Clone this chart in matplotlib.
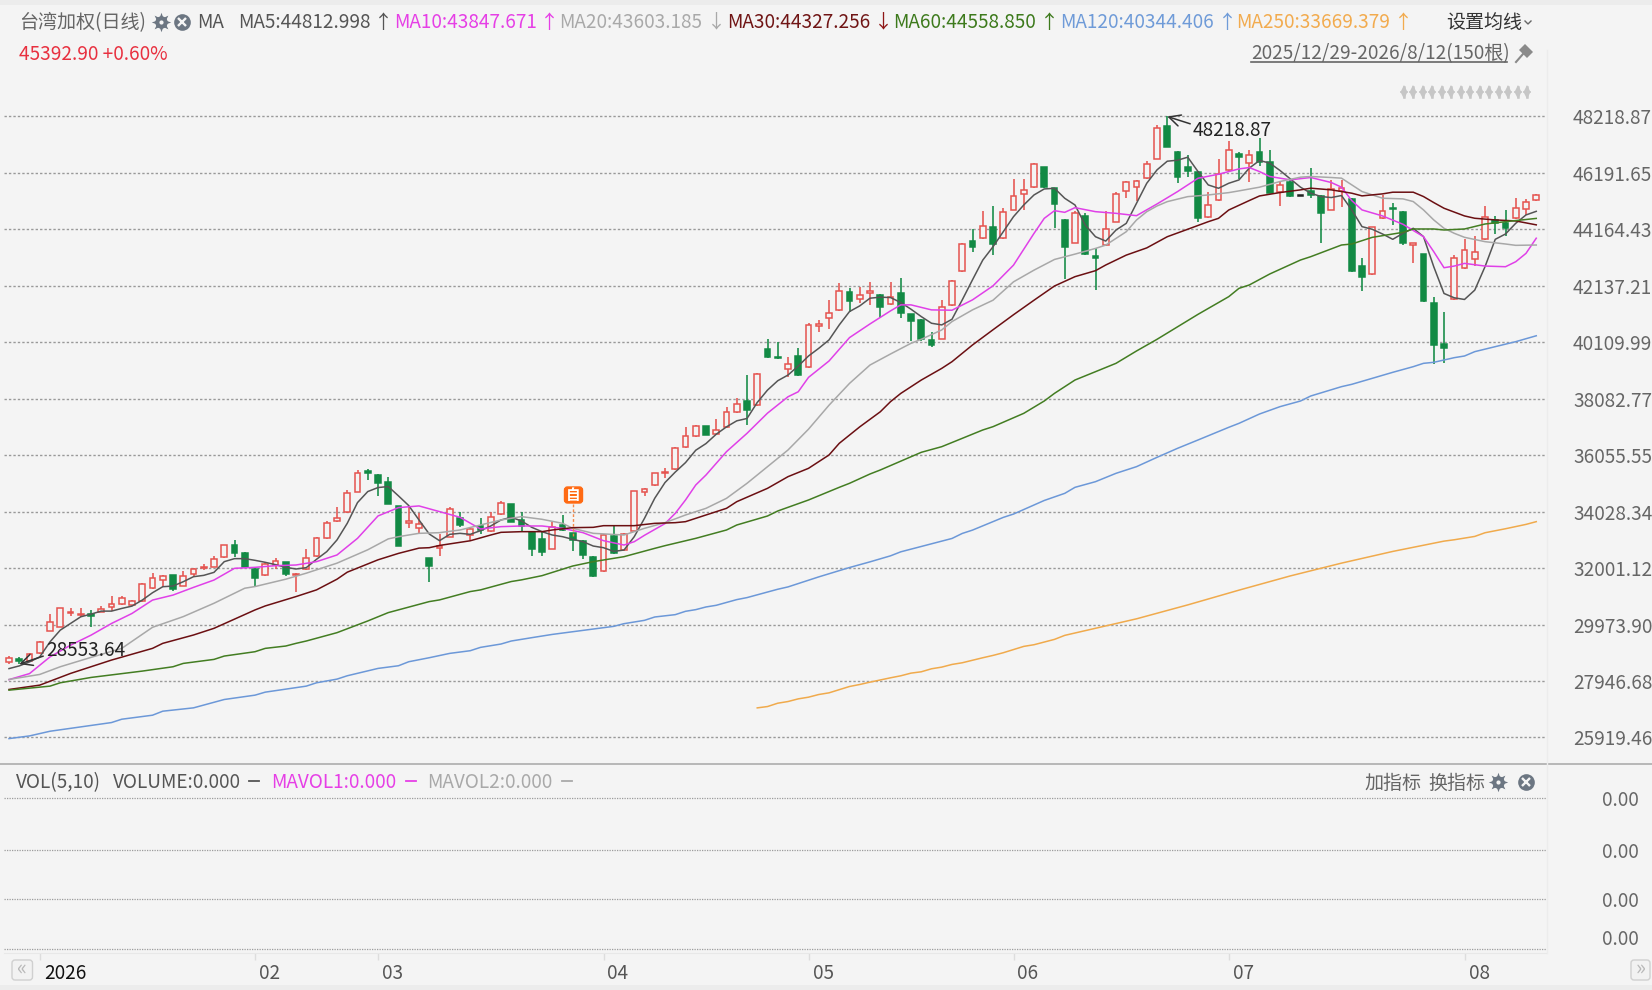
import matplotlib
matplotlib.use("Agg")
import matplotlib.pyplot as plt
from matplotlib.lines import Line2D
from matplotlib.patches import Circle, FancyBboxPatch, Polygon, Rectangle
from matplotlib.transforms import Affine2D, ScaledTranslation

plt.rcParams['font.family'] = ['Noto Sans CJK SC', 'DejaVu Sans']

opens = [28621,28729,28669,28957,29737,29893,30385,30325,30361,30433,
30589,30697,30673,30817,31285,31573,31753,31369,31777,32005,
32053,32389,32821,32545,31969,31741,32101,32209,31741,31969,
32437,33085,33685,34006,34750,35482,35338,35098,34234,33634,
33454,32350,32722,33130,33790,33190,33514,33322,33946,34294,
33730,33286,33046,32698,33550,33250,32986,32398,31894,33154,
32650,33346,34750,34978,35410,35566,36354,36738,37122,36834,
37062,37590,37986,37854,39882,39570,39162,39606,39210,40698,
40998,41262,41934,41682,41898,41826,41478,41874,41118,40914,
40206,40242,41442,42665,43757,43853,44237,43853,44873,45425,
45689,46409,45641,44513,43685,44633,43217,43589,44441,45533,
45689,46001,46709,47861,46949,46409,46241,44609,45209,46289,
46889,46544,46952,46580,45524,45860,45370,45536,45368,44876,
45536,45260,42836,42560,44564,44948,44792,43592,43280,41504,
40040,41648,42776,43100,43808,44504,44408,44564,44888,45212]
closes = [28777,28657,28933,29341,30049,30553,30433,30361,30277,30541,
30709,30937,30817,31429,31633,31729,31261,31717,31957,32053,
32341,32821,32533,32053,31633,32161,32257,31777,31801,32365,
33085,33637,33793,34714,35422,35410,35050,34306,32794,33694,
33574,32086,32794,34114,33550,33418,33370,33838,34330,33670,
33514,32686,32578,33466,33370,33010,32470,31714,33190,32530,
33238,34762,34858,35410,35458,36322,36750,37122,36786,36954,
37602,37878,37686,38970,39582,39534,39330,38934,40734,40770,
41154,41970,41586,41826,41946,41370,41730,41154,40890,40218,
40014,41370,42318,43637,43517,44285,43637,44777,45365,45581,
46517,45677,45089,43517,44741,43265,43145,44177,45425,45857,
45905,46505,47801,47141,46037,46265,44585,45041,46157,47033,
46769,46832,46580,45488,45752,45368,45370,45416,44768,45620,
45644,42668,42440,44240,44828,44888,43688,43664,41576,40028,
39896,43148,43424,43364,44600,44384,44228,44924,45164,45392.90]
highs = [28837,28813,28969,29377,30349,30553,30553,30553,30493,30649,
30997,30997,30853,31477,31813,31753,31753,31909,32017,32149,
32437,32833,33013,32569,31993,32197,32377,32233,31825,32677,
33109,33685,34213,34810,35530,35578,35374,35266,34234,34210,
33970,32350,33226,34210,34018,33466,33802,34006,34426,34294,
34030,33286,33286,33670,33910,33274,33010,32446,33214,33526,
33262,34774,34882,35434,35590,36346,37074,37146,37122,37350,
37770,38094,38922,38994,40218,40110,39570,39894,40794,40914,
41634,42222,42054,42078,42270,41850,42270,42426,41142,40938,
40470,41634,42354,43661,44165,44837,45005,44945,45977,45977,
46565,46421,45665,44525,44825,44741,43481,44837,45521,45917,
45941,46613,47921,48218.87,46973,46841,46265,45521,46685,47321,
46961,47024,47444,47024,45884,46004,45380,46364,45392,45944,
45944,45284,43124,44264,45404,45128,44816,43688,43292,41720,
41192,43232,43820,43928,45008,44648,44852,45284,45260,45440]
lows = [28560,28553.64,28645,28933,29725,29893,30265,30229,29893,30409,
30457,30673,30649,30793,31261,31333,31189,31345,31729,31933,
32029,32377,32413,32029,31333,31729,31957,31729,31129,31945,
32413,33061,33661,33982,34738,35170,34594,34306,32794,33454,
33274,31510,32434,33106,33466,33010,33226,33298,33922,33670,
33298,32434,32434,32686,33346,32626,32314,31666,31870,32494,
32626,33322,34594,34954,35254,35542,36330,36714,36786,36810,
37038,37566,37146,37830,39558,39522,38874,38910,39198,40494,
40590,41238,41214,41514,41454,40974,41454,40986,40170,40170,
39954,40218,41418,42641,43349,43829,43241,43829,44849,44861,
45665,45665,44201,42377,43661,43241,42005,43565,44417,45305,
45185,45977,46685,47117,45845,46037,44441,44585,45185,46265,
45977,45884,46424,45464,45020,45344,45356,45284,43664,44852,
44960,42644,41948,42536,44540,44324,43604,42968,41564,39344,
39380,41624,42752,42848,43784,44000,43928,44540,44684,45188]

ma5 = [28393,28489,28633,28813,29353,29773,30013,30253,30349,30457,
30457,30553,30637,30853,31117,31333,31357,31513,31693,31741,
31849,32233,32341,32341,32281,32209,32125,32029,31969,32017,
32317,32593,33013,33610,34354,34750,34894,34930,34594,34246,
33730,33226,32986,33214,33250,33214,33346,33514,33730,33826,
33694,33466,33310,33190,33130,33034,32950,32794,32734,32602,
32650,33130,33790,34510,35074,35450,35790,36234,36474,36810,
37074,37290,37374,37950,38394,38730,38934,39258,39618,39894,
40194,40734,41214,41418,41694,41730,41718,41538,41298,41034,
40794,40734,40938,41634,42354,43061,43541,44081,44621,45041,
45401,45617,45641,45281,45041,44321,43901,43745,44141,44381,
45101,45821,46301,46613,46649,46757,46241,45761,45641,45821,
45941,46364,46640,46544,46280,45980,45680,45464,45344,45308,
45380,44864,44264,44168,44000,43808,44024,44204,43904,42824,
41864,41708,41648,41984,42824,43808,44000,44384,44684,44812.998]

ma10_x = [0,2,4,6,8,10,12,14,16,18,20,22,24,26,28,30,32,34,36,38,40,42,44,46,48,50,52,54,56,58,60,61,62,64,65,66,67,68,70,72,74,76,77,78,80,82,84,86,87,88,90,92,94,96,98,100,101,102,103,104,106,108,110,112,114,116,118,120,121,122,123,125,127,129,130,131,132,134,136,138,139,140,141,142,144,146,147,148,149]
ma10 = [27997,28213,28813,29233,29593,30013,30373,30853,31033,31309,31573,31993,32029,32089,32113,32233,32473,33070,33874,34174,34234,34030,33826,33406,33490,33514,33514,33430,33274,32986,32830,32950,33180,33600,33968,34447,34986,35345,36183,36841,37566,38154,38334,38850,39438,40278,40770,41238,41454,41454,41274,41262,41634,42137,42881,44021,44561,44837,44777,44945,44801,44741,44657,45077,45521,46001,46145,46337,46385,46241,46064,45944,46028,45848,45680,45200,44864,44648,44348,43904,43364,42788,42848,42944,42848,42824,43004,43304,43847.671]

ma20_x = [0,3,5,8,11,14,17,20,23,24,27,29,32,35,37,38,40,42,44,46,48,50,52,54,55,57,60,62,64,66,67,68,70,72,74,76,78,80,82,84,86,88,89,91,92,94,96,98,100,102,104,106,107,109,110,111,112,113,115,117,119,120,122,124,126,127,129,130,131,132,134,136,137,138,139,140,141,142,144,146,147,149]
ma20 = [28003,28183,28459,28795,29119,29875,30259,30739,31279,31339,31603,31819,32179,32659,33050,33130,33250,33274,33370,33550,33730,33850,33754,33610,33430,33250,33190,33430,33633,33908,34028,34148,34507,35046,35644,36243,36990,37850,38634,39294,39690,40074,40218,40554,40854,41274,41621,42281,42701,43085,43277,43481,43601,44081,44501,44801,45005,45161,45341,45401,45485,45548,45680,45884,46040,46064,46028,46004,45764,45524,45284,45260,45164,44864,44504,44204,44024,43880,43724,43640,43592,43603.185]

ma30_x = [0,3,6,10,14,15,18,20,24,25,28,30,32,33,36,38,40,41,42,45,47,48,50,52,53,55,57,58,61,63,65,66,67,68,70,71,74,76,78,80,81,83,85,86,87,89,91,92,94,96,98,100,102,104,106,107,109,111,113,115,117,118,119,121,122,124,126,127,129,131,132,134,135,137,138,139,140,142,143,145,147,149]
ma30 = [27643,27799,28219,28699,29119,29299,29599,29839,30499,30643,30979,31219,31603,31855,32299,32530,32719,32734,32815,32983,33190,33286,33310,33310,33370,33454,33465,33525,33525,33609,33633,33669,33789,33909,34148,34387,34866,35285,35584,36063,36482,37074,37614,37978,38274,38754,39174,39414,40014,40560,41100,41621,42132,42467,42682,42886,43241,43500,43901,44170,44441,44562,44861,45200,45365,45488,45584,45644,45584,45464,45368,45440,45500,45500,45344,45128,44924,44648,44564,44504,44468,44327.256]

ma60_x = [0,4,5,8,13,16,17,20,21,24,25,27,28,29,32,35,37,41,42,45,46,49,50,52,55,57,60,63,64,67,70,71,74,75,78,81,82,84,85,89,91,93,95,96,99,101,102,104,106,108,110,112,116,119,120,121,123,126,127,130,131,133,136,137,139,140,142,144,146,149]
ma60 = [27619,27763,27883,28075,28303,28459,28579,28723,28843,28999,29119,29203,29299,29383,29683,30103,30403,30799,30859,31159,31219,31519,31579,31730,32077,32233,32412,32711,32807,33070,33370,33549,33872,34052,34447,34902,35046,35381,35524,36159,36362,36661,36961,37080,37559,38002,38277,38756,39055,39355,39798,40217,41114,41749,42048,42168,42563,43065,43185,43604,43640,43879,44059,44179,44179,44143,44179,44358,44442,44558.85]

ma120_x = [0,2,4,10,11,14,15,18,21,24,25,29,30,32,33,36,38,39,41,43,45,46,48,49,51,53,59,60,62,63,65,66,67,68,69,71,72,75,76,79,82,84,86,87,92,93,94,97,98,101,103,104,106,108,110,112,114,116,119,120,122,124,126,127,130,131,133,135,137,138,139,141,142,143,147,149]
ma120 = [25879,25975,26143,26455,26575,26719,26863,26983,27283,27439,27547,27763,27883,28015,28135,28399,28495,28639,28783,28939,29035,29155,29275,29383,29503,29620,29910,30006,30126,30246,30330,30450,30510,30606,30666,30870,30942,31242,31326,31686,32022,32226,32442,32586,33066,33246,33366,33822,33942,34430,34686,34902,35105,35405,35644,35979,36302,36602,37057,37200,37535,37799,38002,38182,38517,38601,38816,39032,39235,39355,39391,39558,39618,39774,40133,40344.406]

ma250_x = [73,74,75,76,77,78,79,80,82,83,84,86,87,88,89,90,91,92,93,95,96,97,99,100,101,102,103,110,115,120,125,130,135,140,141,143,144,146,148,149]
ma250 = [26982,27030,27150,27210,27306,27366,27462,27522,27750,27822,27906,28062,28134,28230,28278,28386,28446,28542,28602,28782,28866,28962,29190,29250,29346,29442,29586,30180,30680,31210,31720,32180,32600,32970,33019,33139,33271,33415,33571,33669.379]

price_ticks = [48218.87,46191.65,44164.43,42137.21,40109.99,38082.77,36055.55,34028.34,32001.12,29973.90,27946.68,25919.46]
month_idx = [3,24,36,58,78,98,119,142]
month_labels = ['2026','02','03','04','05','06','07','08']
vol_ticks = [0, 49.4, 99, 150.4]

W, H = 1652, 990
BG = '#f4f4f4'
RED = '#e5534f'
GREEN = '#128a44'
FS = 13.7
fig = plt.figure(figsize=(W/100, H/100), dpi=100, facecolor=BG)
px = Affine2D().scale(1/W, -1/H).translate(0, 1) + fig.transFigure

def axes_px(l, t, r, b):
    return fig.add_axes([l/W, 1-b/H, (r-l)/W, (b-t)/H], facecolor='none')

XL = ((4-9)/10.25, (1546-9)/10.25)
ax = axes_px(4, 0, 1546, 764)
ax.set_xlim(*XL)
ax.set_ylim(52402-35.91*764, 52402)
ax.yaxis.tick_right()
ax.set_yticks(price_ticks)
ax.set_yticklabels([f'{v:.2f}' for v in price_ticks])
ax.set_xticks([])
ax.tick_params(axis='y', length=0, pad=19.5, labelsize=FS, labelcolor='#666666')
ax.grid(axis='y', color='#999999', lw=1.0, ls=(0, (1.7, 1.5)), zorder=1)
ax.set_axisbelow(True)
for s in ax.spines.values():
    s.set_visible(False)

for i in range(150):
    o, c, h, l = opens[i], closes[i], highs[i], lows[i]
    col = RED if c > o else (GREEN if c < o else '#222222')
    top, bot = max(o, c), min(o, c)
    ax.vlines(i, top, h, color=col, lw=1.15, zorder=2)
    ax.vlines(i, l, bot, color=col, lw=1.15, zorder=2)
    ax.bar(i, max(top-bot, 20), bottom=bot, width=0.58,
           facecolor=(BG if c > o else col), edgecolor=col, linewidth=1.1, zorder=3)

series = [(list(range(150)), ma5, '#555555'), (ma10_x, ma10, '#e040e8'), (ma20_x, ma20, '#a8a8a8'),
          (ma30_x, ma30, '#6b0f12'), (ma60_x, ma60, '#437d22'), (ma120_x, ma120, '#6c98d8'),
          (ma250_x, ma250, '#f0aa4c')]
for xs, ys, col in series:
    ax.plot(xs, ys, color=col, lw=1.1, zorder=4, solid_joinstyle='round')

ax.annotate('28553.64', xy=(1, 28553.64), xytext=(46, 651), textcoords=px, fontsize=FS,
            color='#222222', va='center', ha='left', zorder=6, annotation_clip=False,
            arrowprops=dict(arrowstyle='->,head_length=0.6,head_width=0.3', color='#333333',
                            lw=1.1, shrinkA=0, shrinkB=0, relpos=(0, 0.3)))
ax.annotate('48218.87', xy=(113, 48218.87), xytext=(1193, 131), textcoords=px, fontsize=FS,
            color='#222222', va='center', ha='left', zorder=6, annotation_clip=False,
            arrowprops=dict(arrowstyle='->,head_length=0.6,head_width=0.3', color='#333333',
                            lw=1.1, shrinkA=0, shrinkB=0, relpos=(0, 0.8)))

vx = axes_px(4, 764, 1546, 953)
vx.set_xlim(*XL)
vx.set_ylim(-4.3, 184.7)
vx.yaxis.tick_right()
vx.set_yticks(vol_ticks)
vx.set_yticklabels(['0.00'] * 4)
vx.tick_params(axis='y', length=0, pad=40, labelsize=FS, labelcolor='#666666')
vx.grid(axis='y', color='#9c9c9c', lw=0.9, ls=(0, (1, 1)))
vx.set_axisbelow(True)
vx.set_xticks(month_idx)
vx.set_xticklabels(month_labels, ha='left')
vx.tick_params(axis='x', length=5, width=1, color='#dddddd', pad=2, labelsize=FS, labelcolor='#555555')
offx = ScaledTranslation(4/100, 0, fig.dpi_scale_trans)
for t in vx.xaxis.get_major_ticks():
    t.label1.set_transform(t.label1.get_transform() + offx)
vx.xaxis.get_major_ticks()[0].label1.set_color('#111111')
t0 = vx.yaxis.get_major_ticks()[0]
t0.label2.set_transform(t0.label2.get_transform() + ScaledTranslation(0, 12/100, fig.dpi_scale_trans))
for k, s in vx.spines.items():
    s.set_visible(k == 'bottom')
    s.set_color('#e8e8e8')

fig.add_artist(Rectangle((0, 0), W, 5, transform=px, facecolor='#ececec', edgecolor='none'))
fig.add_artist(Rectangle((0, 985), W, 5, transform=px, facecolor='#ececec', edgecolor='none'))
fig.add_artist(Line2D([0, W], [764, 764], transform=px, color='#a6a6a6', lw=1.1))
fig.add_artist(Line2D([1546.5, 1546.5], [50, 953], transform=px, color='#ececec', lw=1))

def label(x, y, s, color='#555555', size=FS, **kw):
    fig.text(x, y, s, transform=px, color=color, fontsize=size, va='center', ha='left', **kw)

def gear(x, y):
    fig.add_artist(Line2D([x], [y], transform=px, marker=(8, 1, 0), ms=14, color='#6c7682', mew=0))
    fig.add_artist(Line2D([x], [y], transform=px, marker='o', ms=9, color='#6c7682', mew=0))
    fig.add_artist(Line2D([x], [y], transform=px, marker='o', ms=3, color=BG, mew=0))

def closer(x, y):
    fig.add_artist(Line2D([x], [y], transform=px, marker='o', ms=12, color='#6c7682', mew=0))
    fig.add_artist(Line2D([x], [y], transform=px, marker='x', ms=5.5, mec=BG, mew=1.7))

Y1 = 22.5
label(19.5, Y1, '台湾加权(日线)', '#666666')
gear(161, 21.5); closer(182, 21.5)
label(197, Y1, 'MA', '#555555')
head = [(238, 'MA5:44812.998', '#555555', 383, '↑', '#555555'),
        (394, 'MA10:43847.671', '#e63fe6', 549.5, '↑', '#e63fe6'),
        (559.5, 'MA20:43603.185', '#a9a9a9', 716, '↓', '#a9a9a9'),
        (727, 'MA30:44327.256', '#701515', 883.5, '↓', '#8e1616'),
        (893, 'MA60:44558.850', '#3d7a1c', 1049, '↑', '#3d7a1c'),
        (1060, 'MA120:40344.406', '#6f9bd8', 1227, '↑', '#6f9bd8'),
        (1236, 'MA250:33669.379', '#f2ab4e', 1403, '↑', '#f2ab4e')]
for x, s, c, ax_, ar, ac in head:
    label(x, Y1, s, c)
    fig.text(ax_, Y1, ar, transform=px, color=ac, fontsize=FS, va='center', ha='center')
label(1446, Y1, '设置均线', '#333333')
fig.add_artist(Line2D([1525, 1528, 1531], [21, 24, 21], transform=px, color='#666666', lw=1))

label(19, 54, '45392.90 +0.60%', '#e8303f')
label(1251, 54, '2025/12/29-2026/8/12(150根)', '#666666')
fig.add_artist(Line2D([1251, 1507], [62, 62], transform=px, color='#666666', lw=1.2))
fig.add_artist(Polygon([(1525, 44), (1533, 52), (1527, 58), (1519, 50)], closed=True, transform=px,
                       facecolor='#8a8a8a', edgecolor='none'))
fig.add_artist(Line2D([1523, 1516], [54, 62], transform=px, color='#8a8a8a', lw=1.5))

for k in range(14):
    xa = 1404 + k * 9.46
    fig.add_artist(Line2D([xa, xa], [87, 97], transform=px, color='#c6c6c6', lw=1.8))
    fig.add_artist(Line2D([xa], [89], transform=px, marker='^', ms=5.5, color='#c6c6c6', mew=0))
    fig.add_artist(Line2D([xa], [95], transform=px, marker='v', ms=5.5, color='#c6c6c6', mew=0))

fig.add_artist(FancyBboxPatch((564.5, 487), 18, 16, boxstyle='round,pad=0,rounding_size=3', transform=px,
                              facecolor='#ff6a13', edgecolor='#ff6a13', lw=1))
fig.text(573.5, 495, '自', transform=px, color='white', fontsize=10.5, va='center', ha='center', fontweight='bold')
fig.add_artist(Line2D([573, 573], [504, 538], transform=px, color='#f58a4b', lw=1, ls=(0, (2, 1.5))))

Y2 = 783
label(16, Y2, 'VOL(5,10)', '#555555')
label(113, Y2, 'VOLUME:0.000', '#555555')
label(271, Y2, 'MAVOL1:0.000', '#e63fe6')
label(427, Y2, 'MAVOL2:0.000', '#a9a9a9')
for x, c in ((254, '#555555'), (411, '#e63fe6'), (567, '#a9a9a9')):
    fig.add_artist(Line2D([x-5, x+5], [781, 781], transform=px, color=c, lw=1.3))
label(1364.5, Y2, '加指标', '#666666')
label(1428, Y2, '换指标', '#666666')
gear(1498, 781.5); closer(1526, 781.5)

for x0, x1, s in ((12, 32.5, '«'), (1631, 1650, '»')):
    fig.add_artist(FancyBboxPatch((x0, 960), x1-x0, 20, boxstyle='round,pad=0,rounding_size=3', transform=px,
                                  facecolor='#f2f2f2', edgecolor='#d0d0d0', lw=1))
    fig.text((x0+x1)/2, 969, s, transform=px, color='#b8b8b8', fontsize=15, va='center', ha='center')

fig.savefig('out.png', dpi=100, facecolor=BG)
